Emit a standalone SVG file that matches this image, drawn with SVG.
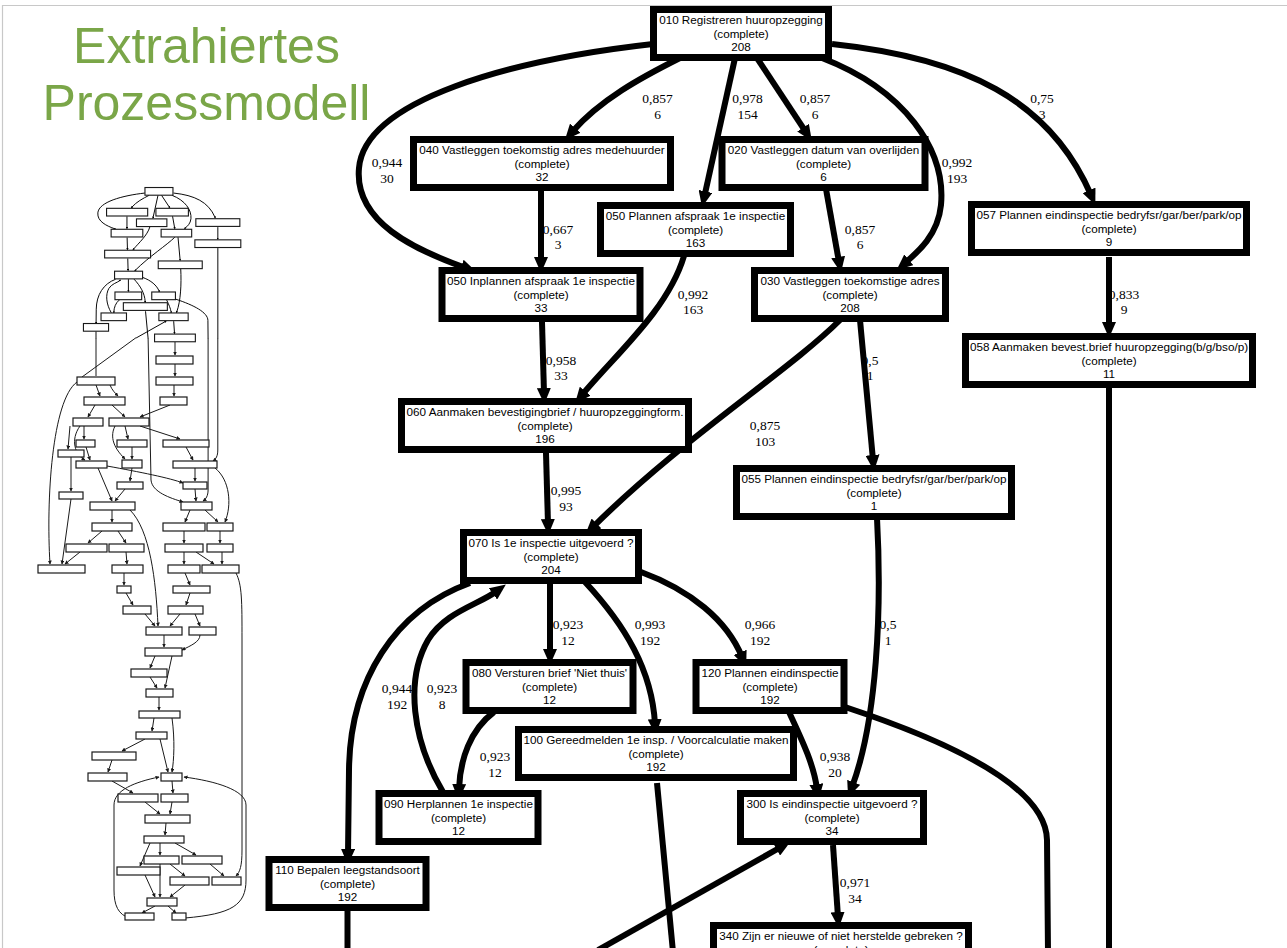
<svg xmlns="http://www.w3.org/2000/svg" xmlns:xlink="http://www.w3.org/1999/xlink" width="1287" height="948" viewBox="0 0 1287 948">
<defs>
<style>
.title{font-family:"Liberation Sans",Arial,sans-serif;font-size:50px;fill:#7AA648;text-anchor:middle}
.node rect{fill:#fff;stroke:#000;stroke-width:7}
.node text{font-family:"Liberation Sans",Arial,sans-serif;font-size:11.7px;fill:#000;text-anchor:middle}
.e{fill:none;stroke:#000;stroke-width:6}
.ea{marker-end:url(#ah)}
.lbl{font-family:"Liberation Serif","Times New Roman",serif;font-size:13.5px;fill:#000;text-anchor:middle}
.tbm{fill:#fff;stroke:#1a1a1a;stroke-width:7}
.tb{fill:#fff;stroke:#1a1a1a;stroke-width:1.2}
.tl{fill:none;stroke:#1a1a1a;stroke-width:1}
.ta{marker-end:url(#ahs)}
.frame{stroke:#c8c8c8;stroke-width:1.2;fill:none}
</style>
<marker id="ah" markerUnits="userSpaceOnUse" viewBox="0 0 16 14" markerWidth="16" markerHeight="14" refX="5" refY="7" orient="auto"><path d="M0,0 L16,7 L0,14 z" fill="#000"/></marker>
<marker id="ahs" markerUnits="userSpaceOnUse" viewBox="0 0 4 4" markerWidth="4" markerHeight="4" refX="3.5" refY="2" orient="auto"><path d="M0,0 L4,2 L0,4 z" fill="#1a1a1a"/></marker>
</defs>
<rect x="0" y="0" width="1287" height="948" fill="#fff"/>
<path class="frame" d="M2.5,948 L2.5,5.5 L1287,5.5"/>
<g id="title">
<text class="title" x="206.5" y="63">Extrahiertes</text>
<text class="title" x="206.5" y="120">Prozessmodell</text>
</g>

<g id="thumbnail">
<g transform="matrix(0.16 0 0 0.16 40.4 186)">
<use href="#edges" xlink:href="#edges"/>
<rect class="tbm" x="653.5" y="9.5" width="175" height="48"/>
<rect class="tbm" x="413.5" y="139.5" width="257" height="48"/>
<rect class="tbm" x="722" y="139.5" width="203" height="48"/>
<rect class="tbm" x="600.5" y="205.5" width="190" height="48"/>
<rect class="tbm" x="971.5" y="204.5" width="275" height="48"/>
<rect class="tbm" x="442" y="270.5" width="198" height="48"/>
<rect class="tbm" x="754.5" y="270.5" width="191" height="48"/>
<rect class="tbm" x="965.5" y="336.5" width="287" height="48"/>
<rect class="tbm" x="401.5" y="401.5" width="287" height="48"/>
<rect class="tbm" x="736.5" y="468.5" width="275" height="48"/>
<rect class="tbm" x="463.5" y="532.5" width="175" height="48"/>
<rect class="tbm" x="466" y="662.5" width="167" height="48"/>
<rect class="tbm" x="696" y="662.5" width="148" height="48"/>
<rect class="tbm" x="518.5" y="729.5" width="275" height="48"/>
<rect class="tbm" x="379" y="793.5" width="159" height="48"/>
<rect class="tbm" x="740.5" y="793.5" width="183" height="48"/>
<rect class="tbm" x="269" y="859.5" width="157" height="48"/>
<rect class="tbm" x="713.5" y="925.5" width="255" height="48"/>
</g>
<g>
<path class="tl" d="M96,338 L96,376"/>
<path class="tl" d="M82,377 L136,337.7"/>
<path class="tl ta" d="M175,342 L175,355"/>
<path class="tl ta" d="M175,364 L175,376"/>
<path class="tl ta" d="M217.8,338 L217.8,450 C217.8,456 216,459 213,461"/>
<path class="tl ta" d="M208.1,338 L208.1,490 C208,496 206,499 203,501"/>
<path class="tl ta" d="M148.1,338 L151,480 C152,492 170,498 183,502"/>
<path class="tl ta" d="M96,385 L100,396"/>
<path class="tl ta" d="M110,385 C112,390 115,393 118,396"/>
<path class="tl ta" d="M174,385 L174,396"/>
<path class="tl ta" d="M95,405 L88,417"/>
<path class="tl ta" d="M112,405 L125,417"/>
<path class="tl ta" d="M170,405 L140,417"/>
<path class="tl ta" d="M84,426 L84,439"/>
<path class="tl ta" d="M70,426 L68,449"/>
<path class="tl ta" d="M80,426 C70,440 75,455 85,460"/>
<path class="tl ta" d="M125,426 L128,439"/>
<path class="tl ta" d="M140,426 L180,439"/>
<path class="tl ta" d="M115,426 C108,440 118,452 125,459"/>
<path class="tl ta" d="M132,447 L132,459"/>
<path class="tl ta" d="M186,447 L193,460"/>
<path class="tl ta" d="M86,447 L90,460"/>
<path class="tl ta" d="M71,457 L71,491"/>
<path class="tl ta" d="M132,468 L130,481"/>
<path class="tl ta" d="M98,468 L112,501"/>
<path class="tl ta" d="M107,466 C140,472 170,478 183,483"/>
<path class="tl ta" d="M195,468 L195,481"/>
<path class="tl ta" d="M215,468 C230,480 232,505 225,522"/>
<path class="tl ta" d="M125,489 L115,501"/>
<path class="tl ta" d="M195,489 L196,501"/>
<path class="tl ta" d="M71,499 L62,564"/>
<path class="tl ta" d="M77,382 C52,400 46,500 50,564"/>
<path class="tl ta" d="M112,510 L112,522"/>
<path class="tl ta" d="M190,510 L185,522"/>
<path class="tl ta" d="M205,510 L218,522"/>
<path class="tl ta" d="M102,531 L88,543"/>
<path class="tl ta" d="M118,531 L126,543"/>
<path class="tl ta" d="M184,531 L184,543"/>
<path class="tl ta" d="M220,531 L220,543"/>
<path class="tl ta" d="M80,552 L65,564"/>
<path class="tl ta" d="M126,552 L127,564"/>
<path class="tl ta" d="M184,552 L184,564"/>
<path class="tl ta" d="M196,552 L214,564"/>
<path class="tl ta" d="M222,552 L222,564"/>
<path class="tl ta" d="M124,573 L124,585"/>
<path class="tl ta" d="M185,573 L190,585"/>
<path class="tl ta" d="M130,510 C150,530 156,580 158,626"/>
<path class="tl ta" d="M126,593 L133,605"/>
<path class="tl ta" d="M190,593 L186,605"/>
<path class="tl ta" d="M145,614 L155,626"/>
<path class="tl ta" d="M180,614 L170,626"/>
<path class="tl ta" d="M195,614 L200,626"/>
<path class="tl ta" d="M164,635 L164,647"/>
<path class="tl ta" d="M200,635 C200,642 190,646 182,650"/>
<path class="tl ta" d="M155,656 L150,668"/>
<path class="tl ta" d="M172,656 L165,688"/>
<path class="tl ta" d="M150,677 L157,688"/>
<path class="tl ta" d="M159,697 L159,710"/>
<path class="tl ta" d="M154,718 L152,731"/>
<path class="tl ta" d="M172,718 C175,740 174,760 172,772"/>
<path class="tl ta" d="M145,739 L122,751"/>
<path class="tl ta" d="M160,739 L168,772"/>
<path class="tl ta" d="M112,760 L108,772"/>
<path class="tl ta" d="M112,781 L133,793"/>
<path class="tl ta" d="M172,781 L173,793"/>
<path class="tl ta" d="M145,802 L160,814"/>
<path class="tl ta" d="M172,802 L170,814"/>
<path class="tl ta" d="M166,823 L165,835"/>
<path class="tl ta" d="M160,843 L160,855"/>
<path class="tl ta" d="M175,843 L196,855"/>
<path class="tl ta" d="M150,843 L140,866"/>
<path class="tl ta" d="M170,864 L185,876"/>
<path class="tl ta" d="M210,864 L224,876"/>
<path class="tl ta" d="M145,875 L155,897"/>
<path class="tl ta" d="M185,885 L170,897"/>
<path class="tl ta" d="M160,864 L160,897"/>
<path class="tl ta" d="M236,573 C242,585 242,600 242,640 L242,850 C242,866 240,872 236,876"/>
<path class="tl ta" d="M130,918 C118,915 114,905 114,890 L114,805 C114,790 135,782 159,777"/>
<path class="tl ta" d="M185,918 C232,914 246,905 246,880 L246,805 C246,790 215,781 184,777"/>
<path class="tl ta" d="M155,906 L142,913"/>
<path class="tl ta" d="M168,906 L176,913"/>
<rect class="tb" x="77" y="377" width="38" height="8"/>
<rect class="tb" x="156" y="356" width="37" height="8"/>
<rect class="tb" x="156" y="377" width="37" height="8"/>
<rect class="tb" x="84" y="397" width="41" height="8"/>
<rect class="tb" x="160" y="397" width="27" height="8"/>
<rect class="tb" x="73" y="418" width="30" height="8"/>
<rect class="tb" x="109" y="418" width="40" height="8"/>
<rect class="tb" x="76" y="440" width="19" height="7"/>
<rect class="tb" x="117" y="440" width="30" height="7"/>
<rect class="tb" x="163" y="440" width="46" height="7"/>
<rect class="tb" x="58" y="450" width="26" height="7"/>
<rect class="tb" x="122" y="460" width="20" height="8"/>
<rect class="tb" x="76" y="461" width="31" height="7"/>
<rect class="tb" x="173" y="461" width="44" height="7"/>
<rect class="tb" x="117" y="482" width="26" height="7"/>
<rect class="tb" x="183" y="482" width="24" height="7"/>
<rect class="tb" x="59" y="492" width="24" height="7"/>
<rect class="tb" x="90" y="502" width="45" height="8"/>
<rect class="tb" x="181" y="502" width="31" height="8"/>
<rect class="tb" x="92" y="523" width="40" height="8"/>
<rect class="tb" x="163" y="523" width="42" height="8"/>
<rect class="tb" x="207" y="523" width="26" height="8"/>
<rect class="tb" x="66" y="544" width="41" height="8"/>
<rect class="tb" x="109" y="544" width="35" height="8"/>
<rect class="tb" x="165" y="544" width="38" height="8"/>
<rect class="tb" x="207" y="544" width="26" height="8"/>
<rect class="tb" x="38" y="565" width="47" height="8"/>
<rect class="tb" x="112" y="565" width="31" height="8"/>
<rect class="tb" x="168" y="565" width="32" height="8"/>
<rect class="tb" x="202" y="565" width="37" height="8"/>
<rect class="tb" x="117" y="586" width="14" height="7"/>
<rect class="tb" x="173" y="586" width="37" height="7"/>
<rect class="tb" x="123" y="606" width="28" height="8"/>
<rect class="tb" x="168" y="606" width="35" height="8"/>
<rect class="tb" x="146" y="627" width="36" height="8"/>
<rect class="tb" x="189" y="627" width="27" height="8"/>
<rect class="tb" x="145" y="648" width="37" height="8"/>
<rect class="tb" x="131" y="669" width="36" height="8"/>
<rect class="tb" x="146" y="689" width="27" height="8"/>
<rect class="tb" x="139" y="711" width="41" height="7"/>
<rect class="tb" x="136" y="732" width="31" height="7"/>
<rect class="tb" x="92" y="752" width="44" height="8"/>
<rect class="tb" x="88" y="773" width="39" height="8"/>
<rect class="tb" x="161" y="773" width="21" height="8"/>
<rect class="tb" x="118" y="794" width="40" height="8"/>
<rect class="tb" x="161" y="794" width="27" height="8"/>
<rect class="tb" x="145" y="815" width="45" height="8"/>
<rect class="tb" x="144" y="836" width="40" height="7"/>
<rect class="tb" x="144" y="856" width="35" height="8"/>
<rect class="tb" x="182" y="856" width="40" height="8"/>
<rect class="tb" x="117" y="867" width="43" height="8"/>
<rect class="tb" x="170" y="877" width="39" height="8"/>
<rect class="tb" x="212" y="877" width="29" height="8"/>
<rect class="tb" x="147" y="898" width="30" height="8"/>
<rect class="tb" x="125" y="913" width="29" height="7"/>
<rect class="tb" x="172" y="913" width="14" height="7"/>
</g>
</g>

<g id="edge-labels">
<text class="lbl" x="387" y="167">0,944</text><text class="lbl" x="387" y="183">30</text>
<text class="lbl" x="657.5" y="102.5">0,857</text><text class="lbl" x="657.5" y="118.5">6</text>
<text class="lbl" x="747.5" y="102.5">0,978</text><text class="lbl" x="747.5" y="118.5">154</text>
<text class="lbl" x="815" y="102.5">0,857</text><text class="lbl" x="815" y="118.5">6</text>
<text class="lbl" x="957" y="167">0,992</text><text class="lbl" x="957" y="183">193</text>
<text class="lbl" x="1042" y="102.5">0,75</text><text class="lbl" x="1042" y="118.5">3</text>
<text class="lbl" x="558" y="233.5">0,667</text><text class="lbl" x="558" y="249">3</text>
<text class="lbl" x="860" y="233.5">0,857</text><text class="lbl" x="860" y="249">6</text>
<text class="lbl" x="1124" y="298.5">0,833</text><text class="lbl" x="1124" y="314">9</text>
<text class="lbl" x="693" y="298.5">0,992</text><text class="lbl" x="693" y="314">163</text>
<text class="lbl" x="561" y="364.5">0,958</text><text class="lbl" x="561" y="380">33</text>
<text class="lbl" x="870" y="364.5">0,5</text><text class="lbl" x="870" y="380">1</text>
<text class="lbl" x="765" y="430">0,875</text><text class="lbl" x="765" y="445.5">103</text>
<text class="lbl" x="566" y="495">0,995</text><text class="lbl" x="566" y="511">93</text>
<text class="lbl" x="568" y="629">0,923</text><text class="lbl" x="568" y="645">12</text>
<text class="lbl" x="650" y="629">0,993</text><text class="lbl" x="650" y="645">192</text>
<text class="lbl" x="760" y="629">0,966</text><text class="lbl" x="760" y="645">192</text>
<text class="lbl" x="888" y="629">0,5</text><text class="lbl" x="888" y="645">1</text>
<text class="lbl" x="397" y="693">0,944</text><text class="lbl" x="397" y="709">192</text>
<text class="lbl" x="442" y="693">0,923</text><text class="lbl" x="442" y="709">8</text>
<text class="lbl" x="495" y="761">0,923</text><text class="lbl" x="495" y="777">12</text>
<text class="lbl" x="835" y="761">0,938</text><text class="lbl" x="835" y="777">20</text>
<text class="lbl" x="855" y="887">0,971</text><text class="lbl" x="855" y="903">34</text>
</g>

<g id="edges">
<path class="e ea" d="M653,44 C510,60 365,100 359,168 C354,222 415,250 466,268"/>
<path class="e ea" d="M680,58 C640,78 600,100 572,132"/>
<path class="e ea" d="M735,58 L704.4,196.3"/>
<path class="e ea" d="M757,58 L805.8,131.9"/>
<path class="e ea" d="M822,58 C905,90 946,150 941,205 C938,235 918,252 905,263"/>
<path class="e ea" d="M832,44 C965,58 1050,100 1091,195"/>
<path class="e ea" d="M541,190 L541,262"/>
<path class="e ea" d="M826,189 L839,262"/>
<path class="e ea" d="M1109,257 L1109,327"/>
<path class="e ea" d="M684,256 C668,310 615,355 582,395"/>
<path class="e ea" d="M542,322 L544,393"/>
<path class="e ea" d="M840,320 C790,370 680,440 593,527"/>
<path class="e ea" d="M860,320 L873,460"/>
<path class="e" d="M1109,388 L1109,952"/>
<path class="e ea" d="M546,453 L548,524"/>
<path class="e ea" d="M877,518 C882,610 877,720 852,787"/>
<path class="e ea" d="M550,582 L550,654"/>
<path class="e ea" d="M585,582 C625,625 652,670 655,724"/>
<path class="e ea" d="M641,572 C690,590 727,620 742,657"/>
<path class="e ea" d="M470,583 C395,610 350,680 349,770 L348,854"/>
<path class="e ea" d="M443,792 C412,740 405,680 428,640 C445,612 478,605 497,591"/>
<path class="e ea" d="M494,712 C470,730 460,760 459,789"/>
<path class="e ea" d="M789,712 C802,740 814,765 817,789"/>
<path class="e" d="M845,707 C960,745 1046,790 1047,840 L1048,952"/>
<path class="e" d="M657,783 L673,952"/>
<path class="e ea" d="M598,950 L781,847"/>
<path class="e" d="M347.5,908 L347.5,952"/>
<path class="e ea" d="M833,845 L838,917"/>
</g>

<g id="n010" class="node"><rect x="653.5" y="9.5" width="175" height="48"/><text x="741" y="24">010 Registreren huuropzegging</text><text x="741" y="37.5">(complete)</text><text x="741" y="51">208</text></g>
<g id="n040" class="node"><rect x="413.5" y="139.5" width="257" height="48"/><text x="542" y="154">040 Vastleggen toekomstig adres medehuurder</text><text x="542" y="167.5">(complete)</text><text x="542" y="181">32</text></g>
<g id="n020" class="node"><rect x="722" y="139.5" width="203" height="48"/><text x="823.5" y="154">020 Vastleggen datum van overlijden</text><text x="823.5" y="167.5">(complete)</text><text x="823.5" y="181">6</text></g>
<g id="n050p" class="node"><rect x="600.5" y="205.5" width="190" height="48"/><text x="695.5" y="220">050 Plannen afspraak 1e inspectie</text><text x="695.5" y="233.5">(complete)</text><text x="695.5" y="247">163</text></g>
<g id="n057" class="node"><rect x="971.5" y="204.5" width="275" height="48"/><text x="1109" y="219">057 Plannen eindinspectie bedryfsr/gar/ber/park/op</text><text x="1109" y="232.5">(complete)</text><text x="1109" y="246">9</text></g>
<g id="n050i" class="node"><rect x="442" y="270.5" width="198" height="48"/><text x="541" y="285">050 Inplannen afspraak 1e inspectie</text><text x="541" y="298.5">(complete)</text><text x="541" y="312">33</text></g>
<g id="n030" class="node"><rect x="754.5" y="270.5" width="191" height="48"/><text x="850" y="285">030 Vastleggen toekomstige adres</text><text x="850" y="298.5">(complete)</text><text x="850" y="312">208</text></g>
<g id="n058" class="node"><rect x="965.5" y="336.5" width="287" height="48"/><text x="1109" y="351">058 Aanmaken bevest.brief huuropzegging(b/g/bso/p)</text><text x="1109" y="364.5">(complete)</text><text x="1109" y="378">11</text></g>
<g id="n060" class="node"><rect x="401.5" y="401.5" width="287" height="48"/><text x="545" y="416">060 Aanmaken bevestigingbrief / huuropzeggingform.</text><text x="545" y="429.5">(complete)</text><text x="545" y="443">196</text></g>
<g id="n055" class="node"><rect x="736.5" y="468.5" width="275" height="48"/><text x="874" y="483">055 Plannen eindinspectie bedryfsr/gar/ber/park/op</text><text x="874" y="496.5">(complete)</text><text x="874" y="510">1</text></g>
<g id="n070" class="node"><rect x="463.5" y="532.5" width="175" height="48"/><text x="551" y="547">070 Is 1e inspectie uitgevoerd ?</text><text x="551" y="560.5">(complete)</text><text x="551" y="574">204</text></g>
<g id="n080" class="node"><rect x="466" y="662.5" width="167" height="48"/><text x="549.5" y="677">080 Versturen brief 'Niet thuis'</text><text x="549.5" y="690.5">(complete)</text><text x="549.5" y="704">12</text></g>
<g id="n120" class="node"><rect x="696" y="662.5" width="148" height="48"/><text x="770" y="677">120 Plannen eindinspectie</text><text x="770" y="690.5">(complete)</text><text x="770" y="704">192</text></g>
<g id="n100" class="node"><rect x="518.5" y="729.5" width="275" height="48"/><text x="656" y="744">100 Gereedmelden 1e insp. / Voorcalculatie maken</text><text x="656" y="757.5">(complete)</text><text x="656" y="771">192</text></g>
<g id="n090" class="node"><rect x="379" y="793.5" width="159" height="48"/><text x="458.5" y="808">090 Herplannen 1e inspectie</text><text x="458.5" y="821.5">(complete)</text><text x="458.5" y="835">12</text></g>
<g id="n300" class="node"><rect x="740.5" y="793.5" width="183" height="48"/><text x="832" y="808">300 Is eindinspectie uitgevoerd ?</text><text x="832" y="821.5">(complete)</text><text x="832" y="835">34</text></g>
<g id="n110" class="node"><rect x="269" y="859.5" width="157" height="48"/><text x="347.5" y="874">110 Bepalen leegstandsoort</text><text x="347.5" y="887.5">(complete)</text><text x="347.5" y="901">192</text></g>
<g id="n340" class="node"><rect x="713.5" y="925.5" width="255" height="48"/><text x="841" y="940">340 Zijn er nieuwe of niet herstelde gebreken ?</text><text x="841" y="953.5">(complete)</text></g>
</svg>
